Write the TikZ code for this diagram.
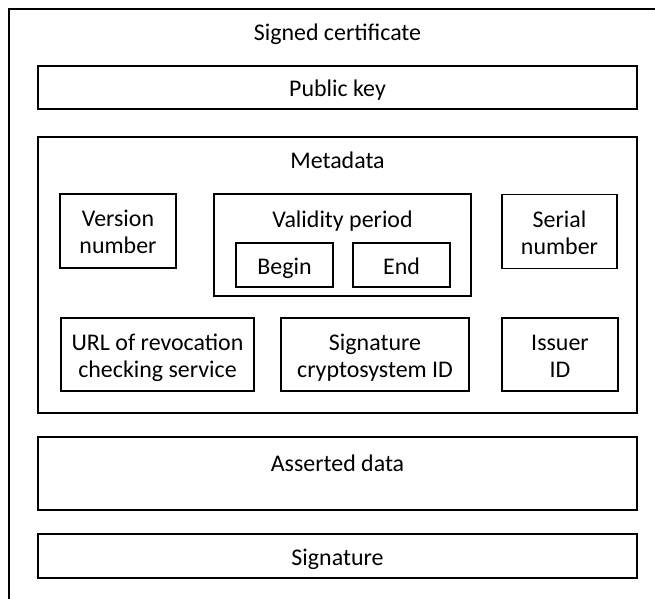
\documentclass[tikz,border=0pt]{standalone}
\usepackage{fontspec}
\setmainfont{Carlito}
% strut that gives every text line the same baseline offset
\newcommand\lnstrut{\rule[-0.25em]{0pt}{1.26em}}
% keep the baselineskip exact even when struts touch
\newcommand\fixedlines{\lineskiplimit=-1000pt\relax}
\begin{document}
\begin{tikzpicture}[x=1bp,y=-1bp,
  every node/.style={font=\fontsize{24}{27}\selectfont\fixedlines,
    align=center, inner sep=0pt},
  box/.style={draw, line width=1.2bp, minimum width=#1, rectangle},
  lbl/.style={anchor=base}
]
\useasboundingbox (0,0) rectangle (655,599);
\clip (0,0) rectangle (655,599);
% outer certificate frame (runs past the page on the right and bottom)
\draw[line width=1.2bp] (9,9) rectangle (720,660);
\node[lbl] (title) at (337.5,41) {Signed certificate};

% top-level parts
\node[box=599bp, minimum height=43bp] (pub) at (337.5,87.5) {\lnstrut Public key};
\node[box=599bp, minimum height=276bp] (meta) at (337.5,275) {};
\node[lbl] (metalbl) at (337.5,169) {Metadata};
\node[box=599bp, minimum height=73bp] (asserted) at (337.5,473.5) {};
\node[lbl] (assertedlbl) at (337.5,471) {Asserted data};
\node[box=599bp, minimum height=44bp] (sig) at (337.5,556) {\lnstrut Signature};

% metadata fields, first row
\node[box=116bp, minimum height=74bp] (ver) at (118,231) {\lnstrut Version\\\lnstrut number};
\node[box=257bp, minimum height=102bp] (valid) at (342.5,245) {};
\node[lbl] (validlbl) at (342.5,227) {Validity period};
\node[box=97bp, minimum height=44bp] (begin) at (284.5,265) {\lnstrut Begin};
\node[box=97bp, minimum height=44bp] (end) at (401.5,265) {\lnstrut End};
\node[box=115bp, minimum height=74bp] (serial) at (559.5,231.5) {\lnstrut Serial\\\lnstrut number};

% metadata fields, second row
\node[box=193bp, minimum height=73bp] (url) at (157.5,354.5) {\lnstrut URL of revocation\\\lnstrut checking service};
\node[box=188bp, minimum height=73bp] (crypto) at (375,354.5) {\lnstrut Signature\\\lnstrut cryptosystem ID};
\node[box=116bp, minimum height=73bp] (issuer) at (560,354.5) {\lnstrut Issuer\\\lnstrut ID};
\end{tikzpicture}
\end{document}
